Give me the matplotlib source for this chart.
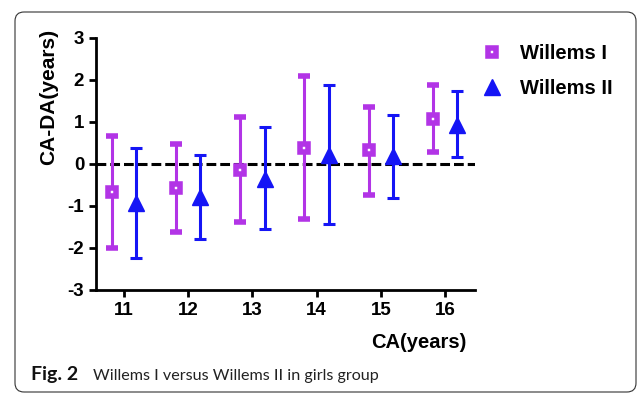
import matplotlib
matplotlib.use("Agg")
import matplotlib.pyplot as plt
from matplotlib.lines import Line2D
from matplotlib.patches import FancyBboxPatch
from matplotlib.transforms import IdentityTransform
import numpy as np

# data (CA - DA, years)
ages = [11, 12, 13, 14, 15, 16]
w1_mean = [-0.66, -0.58, -0.14, 0.39, 0.32, 1.08]
w1_upper = [0.67, 0.47, 1.11, 2.10, 1.35, 1.87]
w1_lower = [-2.00, -1.63, -1.38, -1.31, -0.74, 0.29]
w2_mean = [-0.93, -0.78, -0.36, 0.21, 0.19, 0.93]
w2_upper = [0.39, 0.21, 0.88, 1.87, 1.16, 1.73]
w2_lower = [-2.23, -1.79, -1.54, -1.43, -0.81, 0.17]

purple = "#B234E6"
blue = "#1515F5"

plt.rcParams['font.family'] = ['Liberation Sans', 'DejaVu Sans']
plt.rcParams['axes.unicode_minus'] = False

fig = plt.figure(figsize=(6.38, 3.94), dpi=100)
ax = fig.add_axes([0.1505, 0.264, 0.594, 0.640])

x = np.array(ages, dtype=float)
m1 = np.array(w1_mean)
m2 = np.array(w2_mean)
err1 = [m1 - np.array(w1_lower), np.array(w1_upper) - m1]
err2 = [m2 - np.array(w2_lower), np.array(w2_upper) - m2]

ax.axhline(0, color="black", lw=2.2, dashes=(3.2, 1.3), zorder=1)

ax.errorbar(x - 0.19, m1, yerr=err1, fmt="s", color=purple, ms=6,
            mfc="white", mec=purple, mew=4, elinewidth=2.2,
            capsize=4, capthick=2.2, zorder=3)
ax.errorbar(x + 0.19, m2, yerr=err2, fmt="^", color=blue, ms=12,
            elinewidth=2.2, capsize=4, capthick=2.2, zorder=3)

ax.set_xlim(10.564, 16.467)
ax.set_ylim(-3, 3)
ax.set_xticks(ages)
ax.set_yticks(range(-3, 4))
for s in ["top", "right"]:
    ax.spines[s].set_visible(False)
for s in ["left", "bottom"]:
    ax.spines[s].set_linewidth(2)
ax.tick_params(width=2, length=5, labelsize=13.5, direction="out")
for lab in ax.get_xticklabels() + ax.get_yticklabels():
    lab.set_fontweight("bold")

ax.text(-0.124, 0.765, "CA-DA(years)", transform=ax.transAxes, rotation=90,
        ha="center", va="center", fontsize=15, fontweight="bold")
ax.text(0.852, -0.21, "CA(years)", transform=ax.transAxes,
        ha="center", va="center", fontsize=14.5, fontweight="bold")

handles = [
    Line2D([], [], ls="none", marker="s", ms=6, mfc="white", mec=purple, mew=4),
    Line2D([], [], ls="none", marker="^", ms=12, color=blue),
]
fig.legend(handles, ["Willems I", "Willems II"], loc="upper left",
           bbox_to_anchor=(482 / 638, 1 - 44 / 394), frameon=False,
           borderpad=0, borderaxespad=0, handlelength=1.0, handletextpad=0.9,
           labelspacing=0.8, prop={"weight": "bold", "size": 14.5})

# caption
fig.text(31 / 638, 1 - 380 / 394, "Fig. 2", fontsize=14, fontweight="bold",
         family=["Lato", "DejaVu Sans"], va="baseline", color="#111111")
fig.text(93 / 638, 1 - 380 / 394, "Willems I versus Willems II in girls group",
         fontsize=11.6, family=["Lato", "DejaVu Sans"], va="baseline",
         color="#222222")

# rounded frame around the figure
frame = FancyBboxPatch((15, 2), 621, 380, boxstyle="round,pad=0,rounding_size=9",
                       transform=IdentityTransform(), fill=False,
                       edgecolor="#333333", lw=0.8)
fig.add_artist(frame)

fig.savefig("out.png", dpi=100)
